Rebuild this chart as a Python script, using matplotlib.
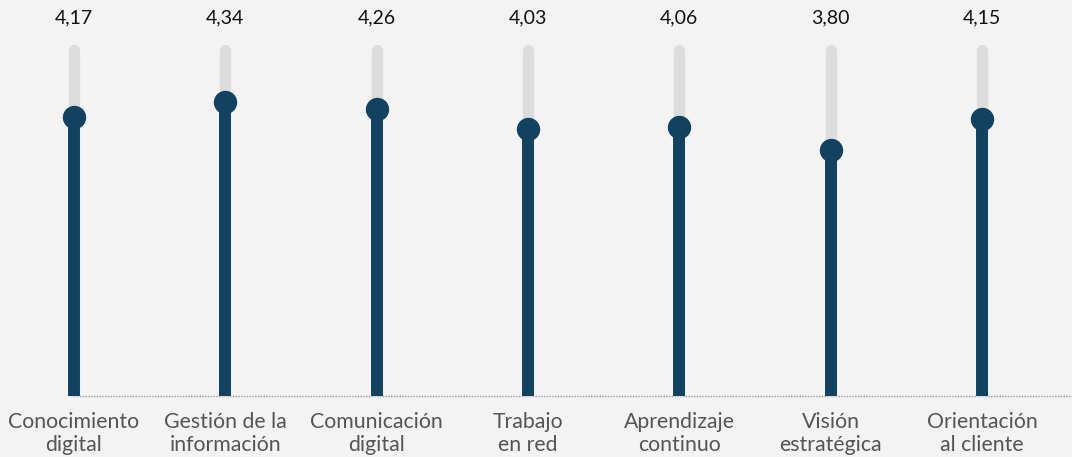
import numpy as np
import matplotlib.pyplot as plt

# Datos
categorias = ["Conocimiento\ndigital", "Gestión de la\ninformación", "Comunicación\ndigital",
              "Trabajo\nen red", "Aprendizaje\ncontinuo", "Visión\nestratégica", "Orientación\nal cliente"]
valores = [4.17, 4.34, 4.26, 4.03, 4.06, 3.80, 4.15]
etiquetas = ["4,17", "4,34", "4,26", "4,03", "4,06", "3,80", "4,15"]
escala_min = 1
escala_max = 5

azul = "#12425f"
gris = "#dcdcdc"
fondo = "#f3f3f3"

fig = plt.figure(figsize=(10.72, 4.57), dpi=100, facecolor=fondo)
ax = fig.add_axes([0, 0, 1, 1])
ax.set_facecolor(fondo)

x = np.arange(len(categorias))
ax.set_xlim(-0.489, 6.595)
ax.set_ylim(0.307, 5.5)

# radio del extremo redondeado en unidades de datos
px_por_unidad = 457 / (5.5 - 0.307)
radio = 5.5 / px_por_unidad

# linea base punteada
ax.plot([x[0], ax.get_xlim()[1]], [escala_min, escala_min], color="#9a9a9a",
        linestyle=(0, (1, 1)), linewidth=1, zorder=1)

for xi, v, lab in zip(x, valores, etiquetas):
    ax.plot([xi, xi], [escala_min + radio, escala_max - radio], color=gris, linewidth=8,
            solid_capstyle="round", zorder=2)
    ax.plot([xi, xi], [escala_min, escala_max - radio], color=gris, linewidth=8,
            solid_capstyle="butt", zorder=2)
    ax.plot([xi, xi], [escala_min, v], color=azul, linewidth=8.6,
            solid_capstyle="butt", zorder=3)
    ax.plot(xi, v, "o", color=azul, markersize=15.8, zorder=4)
    ax.text(xi, 5.295, lab, ha="center", va="center", fontsize=14,
            family="Lato", color="#111111")

for xi, cat in zip(x, categorias):
    ax.text(xi, 0.575, cat, ha="center", va="center", fontsize=15.3, family="Lato",
            color="#555555", linespacing=1.15)

ax.axis("off")

fig.savefig("out.png", dpi=100, facecolor=fondo)
